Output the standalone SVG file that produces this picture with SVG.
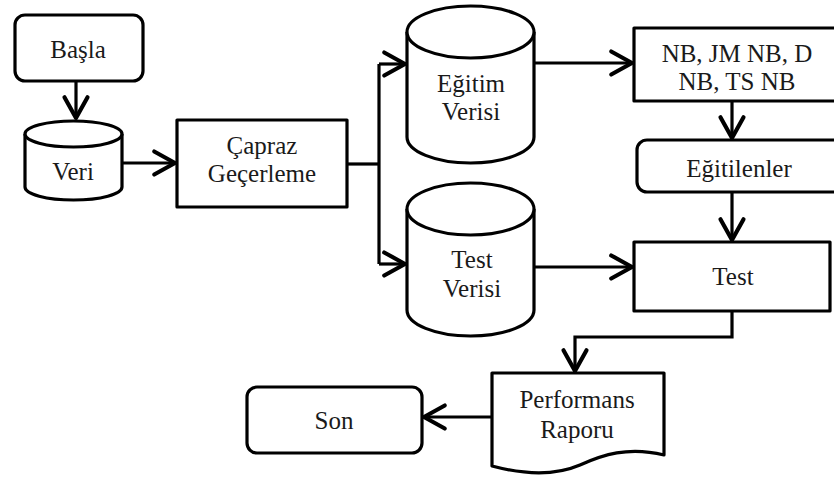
<svg xmlns="http://www.w3.org/2000/svg" width="834" height="480" viewBox="0 0 834 480">
<style>
.s{fill:#fff;stroke:#000;stroke-width:3.2;stroke-linejoin:round}
.c{fill:none;stroke:#000;stroke-width:3.2}
.t{font-family:'Liberation Serif','Times New Roman',serif;font-size:25px;fill:#1a1a1a;text-anchor:middle}
</style>
<defs>
<marker id="ah" markerUnits="userSpaceOnUse" markerWidth="30" markerHeight="30" viewBox="-22 -13 26 26" refX="0" refY="0" orient="auto">
<path d="M-18,-10 L0,0 L-18,10" fill="none" stroke="#000" stroke-width="3.6" stroke-linecap="round" stroke-linejoin="round"/>
</marker>
</defs>
<g id="connectors">
<path class="c" d="M76,82 V118" marker-end="url(#ah)"/>
<path class="c" d="M122,163 H175" marker-end="url(#ah)"/>
<path class="c" d="M347,164 H379"/>
<path class="c" d="M379,64 V264"/>
<path class="c" d="M379,64 H405" marker-end="url(#ah)"/>
<path class="c" d="M379,264 H405" marker-end="url(#ah)"/>
<path class="c" d="M534,63 H632" marker-end="url(#ah)"/>
<path class="c" d="M534,267 H632" marker-end="url(#ah)"/>
<path class="c" d="M732,101 V138" marker-end="url(#ah)"/>
<path class="c" d="M732,192 V240" marker-end="url(#ah)"/>
<path class="c" d="M732,311 V337 H575 V371" marker-end="url(#ah)"/>
<path class="c" d="M492,417 H424" marker-end="url(#ah)"/>
</g>
<g id="basla">
<rect class="s" x="15" y="15" width="128" height="66" rx="10"/>
<text class="t" x="78" y="58">Başla</text>
</g>
<g id="veri">
<path class="s" d="M25,134 V187 A48.5,13 0 0 0 122,187 V134"/>
<ellipse class="s" cx="73.5" cy="134" rx="48.5" ry="13"/>
<text class="t" x="73" y="180">Veri</text>
</g>
<g id="capraz">
<rect class="s" x="177" y="120" width="170" height="87"/>
<text class="t" x="262" y="154">Çapraz</text>
<text class="t" x="262" y="182">Geçerleme</text>
</g>
<g id="egitim-verisi">
<path class="s" d="M407,32 V137 A63.5,26 0 0 0 534,137 V32"/>
<ellipse class="s" cx="470.5" cy="32" rx="63.5" ry="26"/>
<text class="t" x="471" y="92">Eğitim</text>
<text class="t" x="471" y="120">Verisi</text>
</g>
<g id="test-verisi">
<path class="s" d="M407,209 V310 A63.5,26 0 0 0 534,310 V209"/>
<ellipse class="s" cx="470.5" cy="209" rx="63.5" ry="26"/>
<text class="t" x="472" y="268">Test</text>
<text class="t" x="472" y="297">Verisi</text>
</g>
<g id="nb">
<rect class="s" x="634" y="28" width="210" height="73"/>
<text class="t" x="737" y="62">NB, JM NB, D</text>
<text class="t" x="737" y="90">NB, TS NB</text>
</g>
<g id="egitilenler">
<rect class="s" x="637" y="140" width="210" height="52" rx="10"/>
<text class="t" x="739" y="177">Eğitilenler</text>
</g>
<g id="test">
<rect class="s" x="634" y="242" width="196" height="69"/>
<text class="t" x="733" y="285">Test</text>
</g>
<g id="performans">
<path class="s" d="M492,373 H664 V455 C628,446 602,455 580,465 C552,477 522,474 492,466 Z"/>
<text class="t" x="577" y="408">Performans</text>
<text class="t" x="577" y="438">Raporu</text>
</g>
<g id="son">
<rect class="s" x="247" y="387" width="175" height="66" rx="10"/>
<text class="t" x="334" y="429">Son</text>
</g>
</svg>
